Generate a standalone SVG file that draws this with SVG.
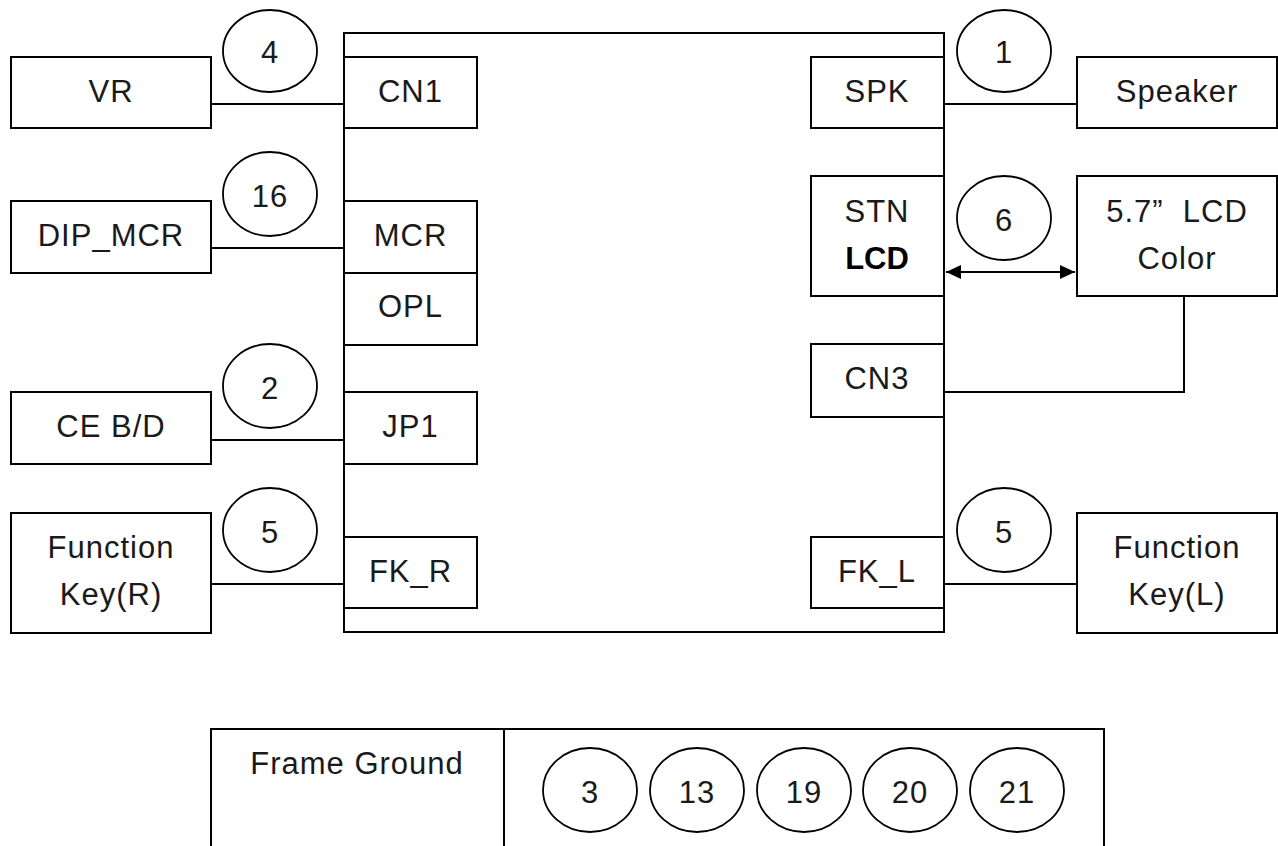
<svg xmlns="http://www.w3.org/2000/svg" width="1278" height="846" viewBox="0 0 1278 846">
<style>
.b{fill:#fff;stroke:#000;stroke-width:2}
.c{fill:none;stroke:#000;stroke-width:2}
.e{fill:#fff;stroke:#000;stroke-width:1.8}
text{font-family:"Liberation Sans",Arial,sans-serif;font-size:31px;letter-spacing:1px;fill:#1a1a1a;text-anchor:middle}
.bold{font-weight:bold;fill:#000;letter-spacing:0px}
</style>
<defs>
<marker id="ah" viewBox="0 0 15 14" refX="15" refY="7" markerWidth="15" markerHeight="14" markerUnits="userSpaceOnUse" orient="auto-start-reverse">
<path d="M0,0 L15,7 L0,14 Z" fill="#000"/>
</marker>
</defs>
<rect width="1278" height="846" fill="#fff"/>

<g id="main"><rect class="b" x="344" y="33" width="600" height="599"/></g>

<g id="connectors">
<line class="c" x1="211" y1="104" x2="344" y2="104"/>
<line class="c" x1="211" y1="248" x2="344" y2="248"/>
<line class="c" x1="211" y1="440" x2="344" y2="440"/>
<line class="c" x1="211" y1="584" x2="344" y2="584"/>
<line class="c" x1="944" y1="104" x2="1077" y2="104"/>
<line class="c" x1="946" y1="272" x2="1075" y2="272" marker-start="url(#ah)" marker-end="url(#ah)"/>
<polyline class="c" points="1184,296 1184,392 944,392"/>
<line class="c" x1="944" y1="584" x2="1077" y2="584"/>
</g>

<g id="vr"><rect class="b" x="11" y="57" width="200" height="71"/><text x="111" y="102">VR</text></g>
<g id="dipmcr"><rect class="b" x="11" y="201" width="200" height="72"/><text x="111" y="246">DIP_MCR</text></g>
<g id="ceb"><rect class="b" x="11" y="392" width="200" height="72"/><text x="111" y="437">CE B/D</text></g>
<g id="fkeyr"><rect class="b" x="11" y="513" width="200" height="120"/><text x="111" y="558">Function</text><text x="111" y="605">Key(R)</text></g>

<g id="cn1"><rect class="b" x="344" y="57" width="133" height="71"/><text x="410.5" y="102">CN1</text></g>
<g id="mcr"><rect class="b" x="344" y="201" width="133" height="72"/><text x="410.5" y="246">MCR</text></g>
<g id="opl"><rect class="b" x="344" y="273" width="133" height="72"/><text x="410.5" y="317">OPL</text></g>
<g id="jp1"><rect class="b" x="344" y="392" width="133" height="72"/><text x="410.5" y="437">JP1</text></g>
<g id="fkr"><rect class="b" x="344" y="537" width="133" height="71"/><text x="410.5" y="582">FK_R</text></g>

<g id="spk"><rect class="b" x="811" y="57" width="133" height="71"/><text x="877" y="102">SPK</text></g>
<g id="stnlcd"><rect class="b" x="811" y="176" width="133" height="120"/><text x="877" y="222">STN</text><text class="bold" x="877" y="269">LCD</text></g>
<g id="cn3"><rect class="b" x="811" y="344" width="133" height="73"/><text x="877" y="389">CN3</text></g>
<g id="fkl"><rect class="b" x="811" y="537" width="133" height="71"/><text x="877" y="582">FK_L</text></g>

<g id="speaker"><rect class="b" x="1077" y="57" width="200" height="71"/><text x="1177" y="102">Speaker</text></g>
<g id="lcdcolor"><rect class="b" x="1077" y="176" width="200" height="120"/><text x="1177" y="222">5.7”&#160; LCD</text><text x="1177" y="269">Color</text></g>
<g id="fkeyl"><rect class="b" x="1077" y="513" width="200" height="120"/><text x="1177" y="558">Function</text><text x="1177" y="605">Key(L)</text></g>

<g id="n4"><ellipse class="e" cx="270" cy="51" rx="47" ry="41"/><text x="270" y="63">4</text></g>
<g id="n16"><ellipse class="e" cx="270" cy="194" rx="47" ry="42"/><text x="270" y="207">16</text></g>
<g id="n2"><ellipse class="e" cx="270" cy="386" rx="47" ry="42"/><text x="270" y="399">2</text></g>
<g id="n5l"><ellipse class="e" cx="270" cy="530" rx="47" ry="42"/><text x="270" y="543">5</text></g>
<g id="n1"><ellipse class="e" cx="1004" cy="51" rx="47" ry="41"/><text x="1004" y="63">1</text></g>
<g id="n6"><ellipse class="e" cx="1004" cy="218" rx="47" ry="42"/><text x="1004" y="231">6</text></g>
<g id="n5r"><ellipse class="e" cx="1004" cy="530" rx="47" ry="42"/><text x="1004" y="543">5</text></g>

<g id="frameground">
<rect class="b" x="211" y="729" width="893" height="140"/>
<line class="c" x1="504" y1="729" x2="504" y2="846"/>
<text x="357" y="774">Frame Ground</text>
<ellipse class="e" cx="590" cy="790" rx="47" ry="42"/><text x="590" y="803">3</text>
<ellipse class="e" cx="697" cy="790" rx="47" ry="42"/><text x="697" y="803">13</text>
<ellipse class="e" cx="804" cy="790" rx="47" ry="42"/><text x="804" y="803">19</text>
<ellipse class="e" cx="910" cy="790" rx="47" ry="42"/><text x="910" y="803">20</text>
<ellipse class="e" cx="1017" cy="790" rx="47" ry="42"/><text x="1017" y="803">21</text>
</g>
</svg>
